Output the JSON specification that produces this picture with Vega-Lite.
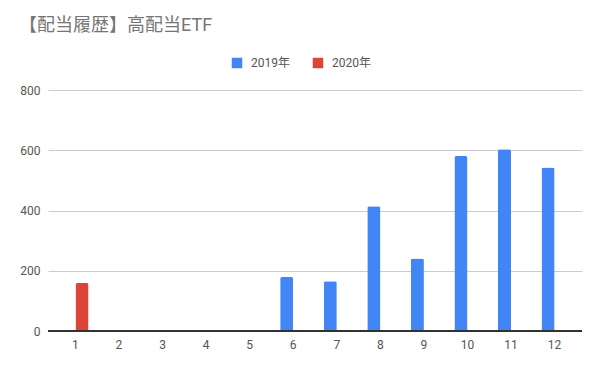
{
  "$schema": "https://vega.github.io/schema/vega-lite/v6.json",
  "width": 534,
  "height": 241,
  "autosize": {"type": "none"},
  "padding": {"left": 48, "top": 90, "right": 18, "bottom": 40},
  "background": "white",
  "title": {
    "text": "【配当履歴】高配当ETF",
    "anchor": "start",
    "frame": "group",
    "dx": -29,
    "offset": 22,
    "fontSize": 18,
    "fontWeight": "normal",
    "color": "#757575",
    "font": "Roboto, Noto Sans CJK JP"
  },
  "config": {
    "view": {"stroke": null},
    "font": "Roboto, Noto Sans CJK JP"
  },
  "data": {
    "values": [
      {"month": "1", "year": "2019年", "value": 0},
      {"month": "1", "year": "2020年", "value": 159},
      {"month": "2", "year": "2019年", "value": 0},
      {"month": "3", "year": "2019年", "value": 0},
      {"month": "4", "year": "2019年", "value": 0},
      {"month": "5", "year": "2019年", "value": 0},
      {"month": "6", "year": "2019年", "value": 179},
      {"month": "7", "year": "2019年", "value": 165},
      {"month": "8", "year": "2019年", "value": 414},
      {"month": "9", "year": "2019年", "value": 241},
      {"month": "10", "year": "2019年", "value": 581},
      {"month": "11", "year": "2019年", "value": 603},
      {"month": "12", "year": "2019年", "value": 543}
    ]
  },
  "layer": [
    {
      "mark": {"type": "bar", "cornerRadiusTopLeft": 2, "cornerRadiusTopRight": 2},
      "encoding": {
        "x": {
          "field": "month",
          "type": "ordinal",
          "sort": ["1","2","3","4","5","6","7","8","9","10","11","12"],
          "scale": {"paddingInner": 0.4, "paddingOuter": 0.33},
          "axis": {
            "title": null,
            "labelAngle": 0,
            "ticks": false,
            "domain": false,
            "labelColor": "#555555",
            "labelFontSize": 12,
            "labelPadding": 8
          }
        },
        "xOffset": {
          "field": "year",
          "type": "nominal",
          "scale": {"domain": ["2019年", "2020年"], "paddingInner": 0, "paddingOuter": 0}
        },
        "y": {
          "field": "value",
          "type": "quantitative",
          "scale": {"domain": [0, 800]},
          "axis": {
            "title": null,
            "values": [0, 200, 400, 600, 800],
            "ticks": false,
            "domain": false,
            "gridColor": "#cccccc",
            "labelColor": "#555555",
            "labelFontSize": 12,
            "labelPadding": 8
          }
        },
        "color": {
          "field": "year",
          "type": "nominal",
          "scale": {"domain": ["2019年", "2020年"], "range": ["#4285F4", "#DB4437"]},
          "legend": {
            "title": null,
            "orient": "none",
            "direction": "horizontal",
            "legendX": 183,
            "legendY": -33,
            "symbolType": "square",
            "symbolSize": 110,
            "symbolStrokeWidth": 0,
            "symbolOpacity": 1,
            "labelFontSize": 12,
            "labelColor": "#555555",
            "labelOffset": 8,
            "columnPadding": 22
          }
        }
      }
    },
    {
      "mark": {"type": "rule", "color": "#333333", "strokeWidth": 1},
      "encoding": {"y": {"datum": 0}}
    }
  ]
}
